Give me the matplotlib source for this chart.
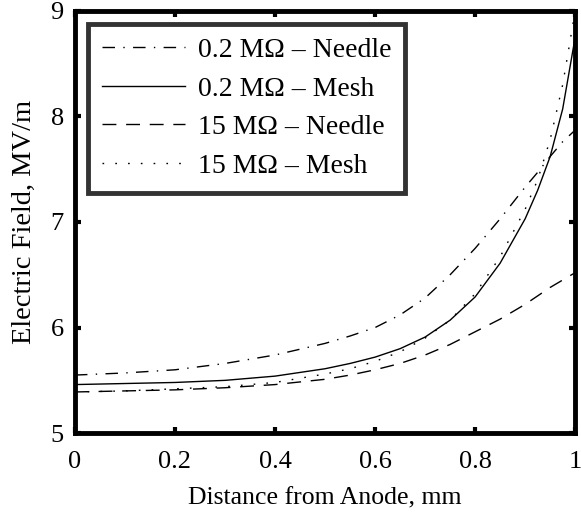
import matplotlib
matplotlib.use("Agg")
import matplotlib.pyplot as plt
from matplotlib.ticker import FormatStrFormatter

plt.rcParams['font.family'] = ['Liberation Serif', 'DejaVu Serif']

# data
x = [0, 0.1, 0.2, 0.3, 0.4, 0.5, 0.55, 0.6, 0.65, 0.7, 0.75, 0.8, 0.85, 0.9, 0.925, 0.95, 0.975, 1.0]
needle_02 = [5.55, 5.57, 5.60, 5.66, 5.74, 5.85, 5.92, 6.00, 6.12, 6.28, 6.50, 6.75, 7.03, 7.33, 7.47, 7.62, 7.76, 7.87]
mesh_02 = [5.46, 5.47, 5.48, 5.50, 5.54, 5.61, 5.66, 5.72, 5.80, 5.91, 6.07, 6.29, 6.61, 7.03, 7.30, 7.62, 8.07, 8.75]
needle_15 = [5.39, 5.40, 5.41, 5.43, 5.46, 5.51, 5.55, 5.60, 5.66, 5.74, 5.84, 5.96, 6.08, 6.22, 6.30, 6.38, 6.45, 6.52]
mesh_15 = [5.39, 5.40, 5.42, 5.44, 5.48, 5.56, 5.61, 5.68, 5.77, 5.90, 6.07, 6.32, 6.67, 7.12, 7.40, 7.78, 8.30, 9.00]

labels = ['0.2 M\u03a9 – Needle', '0.2 M\u03a9 – Mesh',
          '15 M\u03a9 – Needle', '15 M\u03a9 – Mesh']

fig = plt.figure(figsize=(5.81, 5.12), dpi=100)
ax = fig.add_axes([0.129, 0.154, 0.861, 0.825])

ax.plot(x, needle_02, color='black', lw=1, linestyle=(0, (9, 6, 1, 6)), label=labels[0])
ax.plot(x, mesh_02, color='black', lw=1, linestyle='-', label=labels[1])
ax.plot(x, needle_15, color='black', lw=1, linestyle=(0, (10, 7)), label=labels[2])
ax.plot(x, mesh_15, color='black', lw=1, linestyle=(0, (1.2, 8)), label=labels[3])

ax.set_xlim(0, 1)
ax.set_ylim(5, 9)
ax.set_xticks([0, 0.2, 0.4, 0.6, 0.8, 1])
ax.set_yticks([5, 6, 7, 8, 9])
ax.xaxis.set_major_formatter(FormatStrFormatter('%g'))
ax.tick_params(direction='in', length=4, width=3, labelsize=19,
               top=True, right=True)
ax.tick_params(axis='x', pad=13)
ax.tick_params(axis='y', pad=8)
for s in ax.spines.values():
    s.set_linewidth(3.5)

ax.set_xlabel('Distance from Anode, mm', fontsize=18.5, labelpad=10)
ax.set_ylabel('Electric Field, MV/m', fontsize=20.5, labelpad=10)

leg = ax.legend(loc='upper left', bbox_to_anchor=(0.026, 0.969), fontsize=20,
                frameon=True, fancybox=False, handlelength=3.0,
                handletextpad=0.45, borderpad=0.5, labelspacing=0.47,
                borderaxespad=0)
leg.get_frame().set_edgecolor('black')
leg.get_frame().set_linewidth(3.5)

fig.savefig('out.png', dpi=100)
